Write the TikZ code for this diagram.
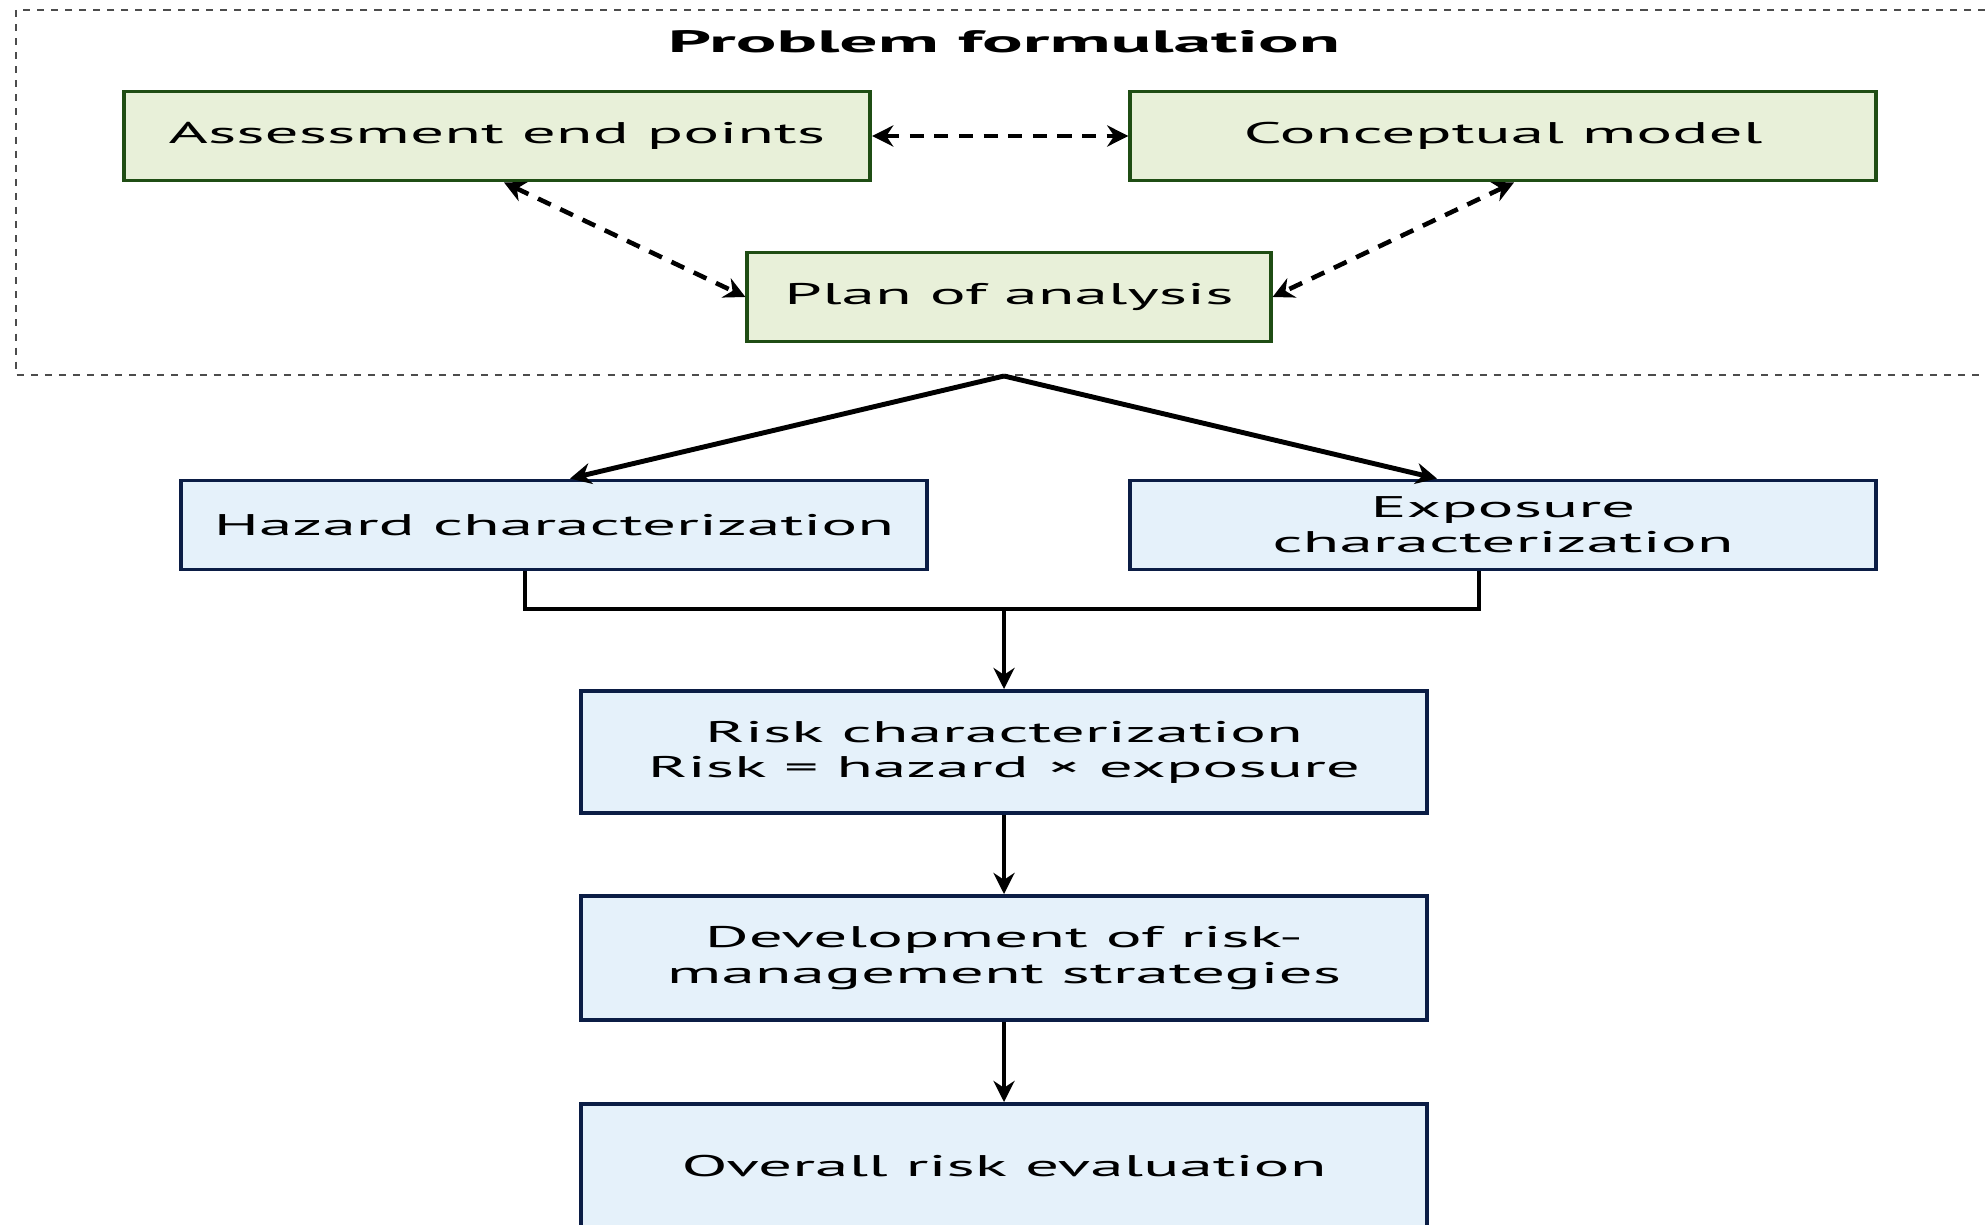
\documentclass[tikz,border=0pt]{standalone}
\usepackage{fontspec}
\setmainfont[FakeStretch=2.25, BoldFeatures={FakeStretch=2.45}]{PT Sans}
\usetikzlibrary{arrows.meta}
\definecolor{pfline}{HTML}{1F4D14}
\definecolor{pffill}{HTML}{E8F0D9}
\definecolor{rcline}{HTML}{0B1D45}
\definecolor{rcfill}{HTML}{E5F1FA}
\tikzset{
  txt/.style={font=\fontsize{8.5}{10}\selectfont, align=center, inner sep=0pt},
  pfbox/.style={txt, draw=pfline, line width=1.1pt, fill=pffill, minimum height=0.89cm},
  rcbox/.style={txt, draw=rcline, line width=1.1pt, fill=rcfill},
  link/.style={line width=1.4pt, -{Stealth[length=6pt,width=6pt]}},
  dlink/.style={line width=1.3pt, dash pattern=on 4pt off 3pt,
    {Stealth[length=6pt,width=6pt]}-{Stealth[length=6pt,width=6pt]}},
}
\begin{document}
\begin{tikzpicture}[x=0.01cm, y=-0.01cm]
      \useasboundingbox (0,0) rectangle (1985,1225);
      \draw[line width=0.6pt, dash pattern=on 2pt off 2pt, gray!60!black]
        (16,10) rectangle (2000,375);
      \draw
        (1004,42) node[txt, font=\fontsize{8.8}{10}\selectfont\bfseries] (title){Problem formulation}
        (497,136) node[pfbox, minimum width=7.46cm] (aep){Assessment end points}
        (1503,136) node[pfbox, minimum width=7.45cm] (cm){Conceptual model}
        (1009,297) node[pfbox, minimum width=5.23cm] (poa){Plan of analysis}
        (554,525) node[rcbox, minimum width=7.46cm, minimum height=0.89cm] (haz){Hazard characterization}
        (1503,525) node[rcbox, minimum width=7.45cm, minimum height=0.89cm] (exp){Exposure\\characterization}
        (1004,752) node[rcbox, minimum width=8.45cm, minimum height=1.22cm] (risk){Risk characterization\\Risk = hazard × exposure}
        (1004,958) node[rcbox, minimum width=8.45cm, minimum height=1.24cm] (dev){Development of risk-\\management strategies}
        (1004,1166) node[rcbox, minimum width=8.45cm, minimum height=1.24cm] (over){Overall risk evaluation};
      \coordinate (apex) at (1004,376);
      \coordinate (join) at (1004,609);
      \begin{scope}[dlink]
        \draw (aep) to (cm);
        \draw ([xshift=0.07cm]aep.south) to (poa.west);
        \draw ([xshift=0.11cm]cm.south) to (poa.east);
      \end{scope}
      \begin{scope}[link]
        \draw (apex) to ([xshift=0.16cm]haz.north);
        \draw (apex) to ([xshift=-0.66cm]exp.north);
        \draw[-] ([xshift=-0.29cm]haz.south) |- (join) -| ([xshift=-0.24cm]exp.south);
        \draw (join) to (risk);
        \draw (risk) to (dev);
        \draw (dev) to (over);
      \end{scope}
    \end{tikzpicture}
\end{document}
